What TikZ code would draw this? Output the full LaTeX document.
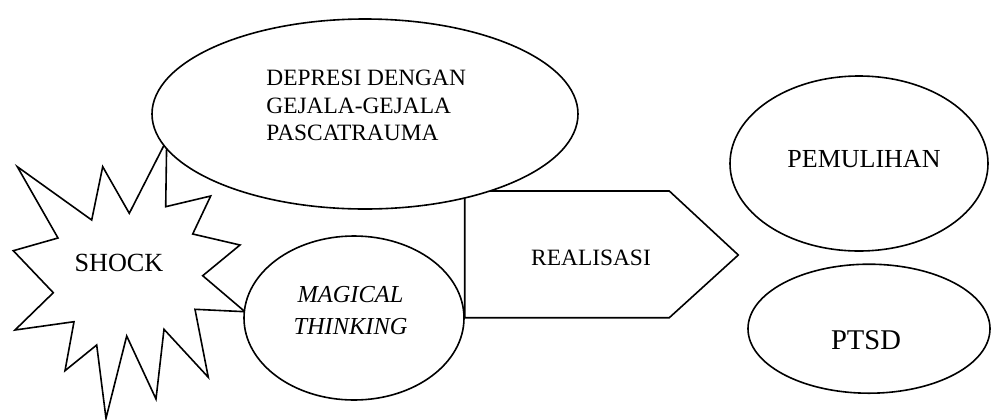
\documentclass[tikz,border=0pt]{standalone}
\usepackage{fontspec}
\setmainfont{Liberation Serif}
\usetikzlibrary{shapes.geometric}
\tikzset{
  shapeline/.style={draw=black, line width=0.8pt, fill=white, line join=miter},
  oval/.style={shapeline, ellipse, inner sep=0pt},
  lbl/.style={inner sep=0pt, font=\fontsize{11.7}{13.9}\selectfont},
}
\begin{document}
\begin{tikzpicture}[x=0.5pt,y=-0.5pt]
\useasboundingbox (0,0) rectangle (992,419);
% starburst SHOCK
\draw[shapeline] (166.7,140) -- (165.7,206.7) -- (210.7,196) -- (192.7,234) -- (240,245)
  -- (202.7,275.7) -- (245,311.7) -- (195,309.3) -- (208.3,377.3) -- (164,329.3)
  -- (156,399) -- (126.7,336) -- (106,418.3) -- (96.7,345) -- (65,370.7)
  -- (74,321.7) -- (15,330) -- (53.3,292.7) -- (13.3,250.7) -- (58,238)
  -- (17.3,166.7) -- (91.7,220) -- (102.7,166.7) -- (129.3,213.3) -- cycle;
% pentagon REALISASI
\draw[shapeline] (464.7,191) -- (669.3,191) -- (738.3,255) -- (669.3,317.7) -- (464.7,317.7) -- cycle;
% ellipses
\node[oval, minimum width=213pt, minimum height=95pt] (dep) at (365,114) {};
\node[oval, minimum width=110pt, minimum height=82pt] (mag) at (354,318) {};
\node[oval, minimum width=129pt, minimum height=87.5pt] (pem) at (859,163.5) {};
\node[oval, minimum width=121pt, minimum height=64.5pt] (pts) at (869,328.7) {};
% texts
\node[lbl, anchor=north west, align=left] (tdep) at (266,69.5) {DEPRESI DENGAN\\GEJALA-GEJALA\\PASCATRAUMA};
\node[lbl, anchor=base, font=\fontsize{13.1}{15}\selectfont] (tsho) at (119,271.7) {SHOCK};
\node[lbl, anchor=north, align=center, font=\fontsize{12.2}{15.8}\selectfont\itshape] (tmag) at (350.5,286) {MAGICAL\\THINKING};
\node[lbl, anchor=base] (trea) at (591,265.7) {REALISASI};
\node[lbl, anchor=base, font=\fontsize{13}{15}\selectfont] (tpem) at (864,167.3) {PEMULIHAN};
\node[lbl, anchor=base, font=\fontsize{14.3}{16}\selectfont] (tpts) at (866,349.3) {PTSD};
\end{tikzpicture}
\end{document}
